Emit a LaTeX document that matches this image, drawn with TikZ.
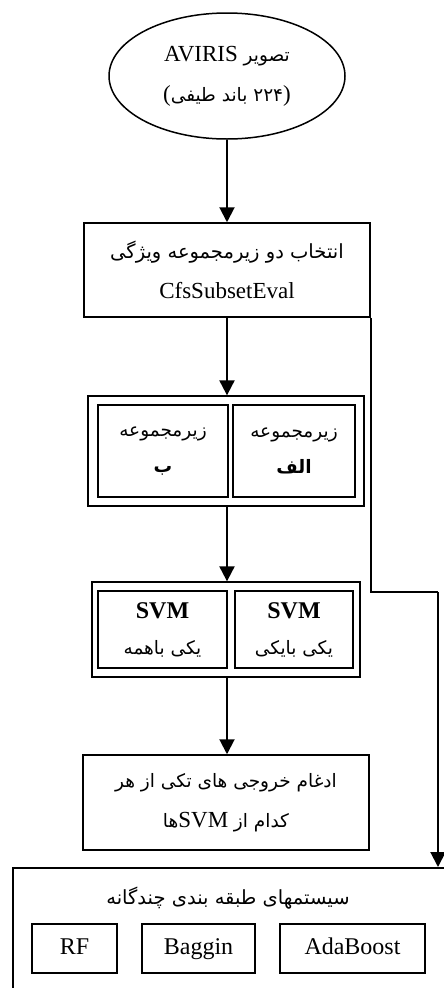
\documentclass[tikz,border=0pt]{standalone}
\usepackage{fontspec}
\setmainfont{Liberation Serif}
\newfontfamily\arabicfont[Script=Arabic]{DejaVu Sans}
\TeXXeTstate=1
\usetikzlibrary{arrows.meta,shapes.geometric}
\newcommand{\fa}[1]{{\arabicfont\fontsize{18.5}{40}\selectfont\beginR #1\endR}}
\newcommand{\faL}[1]{{\arabicfont\fontsize{19.5}{40}\selectfont\beginR #1\endR}}
\tikzset{
  box/.style={draw, line width=1.5pt, inner sep=0pt, align=center, font=\fontsize{23}{40}\selectfont},
  inbox/.style={draw, line width=1.3pt, inner sep=0pt, align=center, font=\fontsize{24}{36}\selectfont},
  small/.style={draw, line width=1.3pt, minimum height=49pt, inner sep=0pt, text height=16pt, text depth=5pt, font=\fontsize{24}{26}\selectfont},
  conn/.style={line width=2pt, -{Triangle[length=15pt,width=15pt]}},
  plain/.style={line width=2pt}
}
\begin{document}
\begin{tikzpicture}[x=1pt,y=-1pt]
\useasboundingbox (0,0) rectangle (444,988);
\clip (0,0) rectangle (444,988);
% ellipse
\node[draw, ellipse, line width=1.5pt, minimum width=236pt, minimum height=126pt, inner sep=0pt, align=center, font=\fontsize{23}{40}\selectfont] (ell) at (227,76) {AVIRIS \fa{تصویر}\\(\fa{۲۲۴ باند طیفی})};
% box 1
\node[box, minimum width=286pt, minimum height=94pt] (b1) at (227,270) {\faL{انتخاب دو زیرمجموعه ویژگی}\\CfsSubsetEval};
% double box 1
\node[draw, line width=1.3pt, minimum width=276pt, minimum height=110pt, inner sep=0pt] (d1) at (226,451) {};
\node[inbox, minimum width=130pt, minimum height=92pt] (d1l) at (163,451) {\fa{زیرمجموعه}\\\fa{\bfseries ب}};
\node[inbox, minimum width=122pt, minimum height=92pt] (d1r) at (294,451) {\fa{زیرمجموعه}\\\fa{\bfseries الف}};
% SVM double box
\node[draw, line width=1.3pt, minimum width=268pt, minimum height=95pt, inner sep=0pt] (d2) at (226,629.5) {};
\node[inbox, minimum width=129pt, minimum height=77pt] (d2l) at (162.5,629.5) {\textbf{SVM}\\\fa{یکی باهمه}};
\node[inbox, minimum width=118pt, minimum height=77pt] (d2r) at (294,629.5) {\textbf{SVM}\\\fa{یکی بایکی}};
% merge box
\node[box, minimum width=286pt, minimum height=95pt] (mg) at (226,802.5) {\fa{ادغام خروجی های تکی از هر}\\\fa{ها}SVM \fa{کدام از}};
% bottom box
\node[draw, line width=1.5pt, minimum width=450pt, minimum height=140pt, inner sep=0pt, anchor=north west] (bt) at (12,867) {};
\node[inner sep=0pt] (btt) at (228,898) {\faL{سیستمهای طبقه بندی چندگانه}};
\node[small, minimum width=85pt] (rf) at (74.5,948.5) {RF};
\node[small, minimum width=113pt] (bg) at (198.5,948.5) {Baggin};
\node[small, minimum width=145pt] (ab) at (352.5,948.5) {AdaBoost};
% connectors (main axis through b1.south)
\draw[conn] (ell.south) -- (b1.north);
\draw[conn] (b1.south) -- (b1.south |- d1.north);
\draw[conn] (b1.south |- d1.south) -- (b1.south |- d2.north);
\draw[conn] (b1.south |- d2.south) -- (b1.south |- mg.north);
\coordinate (c1) at (438,592);
\draw[plain] (b1.south east) |- (c1);
\draw[conn] (c1) -- (c1 |- bt.north);
\end{tikzpicture}
\end{document}
